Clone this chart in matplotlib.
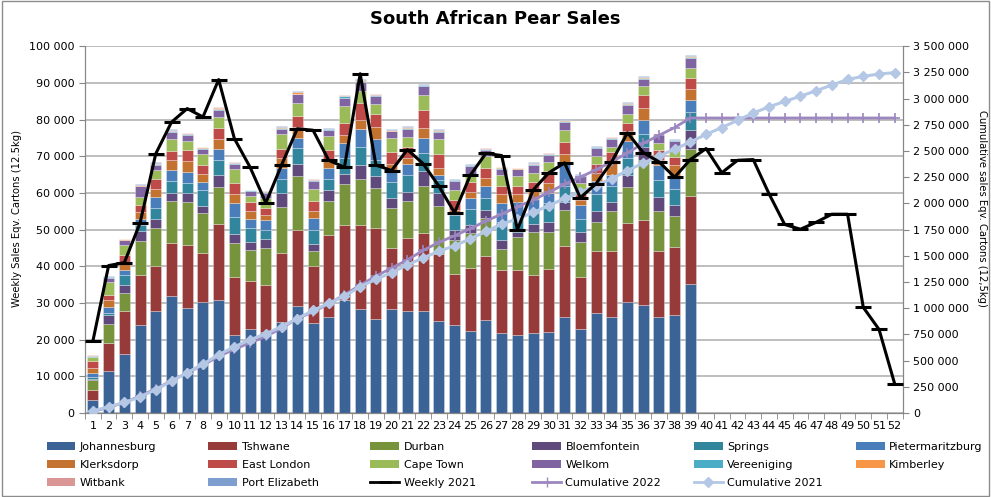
import numpy as np
import matplotlib
matplotlib.use("Agg")
import matplotlib.pyplot as plt
from matplotlib.ticker import FuncFormatter, MultipleLocator, FixedLocator
from matplotlib.patches import Patch, Rectangle
from matplotlib.lines import Line2D

weeks = list(range(1, 53))
bar_weeks = list(range(1, 40))

# 2022 weekly sales per market, thousand cartons, weeks 1-39
johannesburg = [3.5, 11.5, 16.1, 24.1, 27.9, 31.8, 28.5, 30.2, 30.7, 21.3, 23.0, 22.0, 24.8, 29.1, 24.6, 26.2, 30.7, 28.4, 25.7, 28.4,
                27.8, 27.8, 25.1, 23.9, 22.3, 25.3, 21.7, 21.4, 21.9, 22.1, 26.2, 23.0, 27.3, 26.2, 30.2, 29.5, 26.2, 26.8, 35.1]
tshwane = [2.8, 7.6, 11.7, 13.6, 12.1, 14.5, 17.3, 13.5, 20.7, 15.7, 13.1, 13.0, 18.8, 20.8, 15.4, 22.2, 20.5, 22.9, 24.7, 16.5,
           19.9, 21.2, 18.2, 14.1, 17.2, 17.5, 17.2, 17.6, 15.8, 17.2, 19.3, 14.1, 17.0, 17.9, 21.5, 23.0, 18.0, 18.5, 24.0]
durban = [2.7, 5.3, 5.0, 9.1, 10.4, 11.5, 11.7, 10.8, 10.2, 9.3, 8.3, 10.0, 12.6, 14.6, 4.1, 9.3, 11.3, 12.4, 10.9, 10.9,
          10.2, 12.9, 13.1, 9.3, 9.5, 10.4, 5.9, 9.0, 11.7, 10.0, 9.8, 9.5, 7.7, 11.0, 10.0, 16.6, 10.8, 8.4, 12.9]
bloemfontein = [0.4, 2.2, 2.1, 2.7, 2.6, 2.2, 2.4, 1.9, 3.2, 2.6, 2.2, 2.5, 3.7, 3.3, 2.1, 3.2, 2.7, 4.0, 3.3, 2.9,
                2.4, 4.2, 3.5, 2.5, 2.2, 2.1, 2.5, 1.3, 2.2, 2.7, 2.2, 2.7, 3.0, 2.5, 3.3, 3.5, 3.9, 3.0, 5.2]
springs = [0.3, 0.6, 2.7, 1.8, 2.9, 3.2, 2.9, 4.4, 4.3, 4.5, 3.8, 2.5, 3.8, 4.5, 3.6, 3.0, 4.4, 4.9, 4.3, 4.2,
           4.6, 4.8, 3.6, 4.3, 4.5, 3.4, 4.7, 4.4, 3.0, 5.3, 4.5, 3.7, 4.8, 4.3, 4.6, 3.5, 4.6, 4.4, 4.8]
pietermaritzburg = [1.3, 1.8, 1.5, 1.7, 3.0, 3.0, 3.0, 2.1, 2.9, 3.9, 2.6, 2.5, 3.0, 2.6, 3.3, 3.0, 3.9, 4.7, 5.9, 3.0,
                    2.9, 4.1, 1.4, 0.6, 3.0, 3.2, 5.3, 3.9, 3.8, 2.7, 6.2, 3.6, 3.4, 3.1, 4.5, 3.9, 4.0, 3.5, 3.3]
klerksdorp = [1.2, 1.7, 1.4, 1.9, 2.3, 2.7, 2.8, 2.2, 2.7, 2.5, 2.1, 1.4, 2.7, 3.1, 1.9, 2.0, 2.3, 2.7, 3.3, 2.1,
              1.8, 2.7, 1.8, 0.6, 1.5, 2.3, 2.3, 2.0, 2.1, 2.8, 2.3, 1.4, 2.1, 3.4, 2.7, 3.2, 1.4, 2.9, 3.0]
east_london = [1.9, 1.5, 2.5, 1.9, 2.5, 2.5, 3.0, 2.6, 3.1, 2.8, 2.4, 2.1, 2.7, 3.1, 2.7, 2.7, 3.4, 4.4, 3.4, 3.1,
               3.0, 5.0, 3.9, 2.8, 2.7, 2.6, 2.3, 2.4, 2.4, 3.2, 3.3, 1.6, 2.5, 2.7, 2.3, 3.4, 2.9, 2.3, 3.0]
cape_town = [1.2, 3.4, 2.9, 2.1, 2.5, 3.4, 2.5, 3.0, 2.8, 4.0, 1.6, 2.5, 3.9, 3.5, 3.4, 3.9, 4.5, 3.3, 2.7, 4.0,
             2.7, 4.1, 4.0, 2.8, 2.1, 3.2, 2.9, 2.6, 2.6, 2.5, 3.3, 3.2, 2.3, 1.5, 2.3, 2.5, 1.9, 2.0, 2.7]
welkom = [0.1, 1.2, 1.3, 2.9, 1.3, 1.8, 1.8, 1.4, 2.1, 1.3, 1.4, 1.5, 1.3, 2.3, 2.2, 1.6, 2.3, 2.5, 2.3, 1.7,
          2.0, 2.3, 2.1, 2.3, 2.3, 1.7, 1.8, 1.8, 2.0, 1.8, 2.2, 1.8, 2.1, 2.2, 2.7, 2.0, 2.0, 2.3, 2.7]
vereeniging = [0.1, 0.2, 0.1, 0.2, 0.3, 0.3, 0.2, 0.2, 0.3, 0.2, 0.2, 0.2, 0.5, 0.2, 0.2, 0.2, 0.3, 0.2, 0.2, 0.2,
               0.5, 0.2, 0.2, 0.3, 0.2, 0.2, 0.3, 0.2, 0.4, 0.2, 0.3, 0.2, 0.2, 0.2, 0.2, 0.3, 0.2, 0.2, 0.3]
kimberley = [0.1, 0.1, 0.1, 0.1, 0.2, 0.1, 0.1, 0.1, 0.2, 0.1, 0.1, 0.1, 0.1, 0.4, 0.1, 0.1, 0.2, 0.3, 0.1, 0.1,
             0.1, 0.1, 0.2, 0.1, 0.1, 0.2, 0.1, 0.1, 0.1, 0.2, 0.2, 0.1, 0.1, 0.1, 0.1, 0.2, 0.1, 0.1, 0.3]
witbank = [0.1, 0.1, 0.0, 0.1, 0.1, 0.1, 0.1, 0.1, 0.1, 0.1, 0.0, 0.1, 0.1, 0.1, 0.1, 0.1, 0.1, 0.1, 0.1, 0.1,
           0.1, 0.1, 0.1, 0.0, 0.1, 0.1, 0.1, 0.1, 0.1, 0.1, 0.1, 0.1, 0.1, 0.1, 0.1, 0.1, 0.1, 0.1, 0.1]
port_elizabeth = [0.1, 0.1, 0.1, 0.1, 0.2, 0.2, 0.1, 0.1, 0.2, 0.1, 0.1, 0.1, 0.2, 0.2, 0.1, 0.1, 0.2, 0.2, 0.1, 0.1,
                  0.2, 0.2, 0.1, 0.1, 0.1, 0.1, 0.1, 0.1, 0.2, 0.1, 0.2, 0.1, 0.1, 0.1, 0.2, 0.2, 0.1, 0.1, 0.2]

markets = ["Johannesburg", "Tshwane", "Durban", "Bloemfontein", "Springs", "Pietermaritzburg",
           "Klerksdorp", "East London", "Cape Town", "Welkom", "Vereeniging", "Kimberley",
           "Witbank", "Port Elizabeth"]
series = [johannesburg, tshwane, durban, bloemfontein, springs, pietermaritzburg,
          klerksdorp, east_london, cape_town, welkom, vereeniging, kimberley,
          witbank, port_elizabeth]
colours = ["#3B6396", "#973B3A", "#77933C", "#604A7B", "#31859C", "#4A7EBB",
           "#C3722F", "#BE4B48", "#9BBB59", "#8064A2", "#4BACC6", "#F79646",
           "#D99694", "#7E9ECF"]

# thousand cartons
weekly_2021 = [19.6, 40.2, 41.0, 51.8, 70.7, 79.3, 83.0, 80.7, 90.9, 74.8, 67.0, 57.3, 67.6, 77.5, 77.1, 68.9, 67.0, 92.5,
               67.6, 66.1, 71.8, 68.0, 61.9, 54.6, 64.8, 70.8, 70.2, 50.0, 60.8, 65.5, 68.2, 58.7, 62.5, 68.5, 76.4, 71.0,
               68.5, 64.3, 69.1, 72.1, 65.5, 68.9, 69.1, 59.8, 51.4, 50.1, 52.0, 54.2, 54.2, 28.8, 22.8, 7.9]
cumulative_2022 = [15.5, 52.5, 99.8, 162.0, 230.3, 307.6, 384.0, 456.9, 540.5, 608.9, 669.9, 731.1, 809.5, 900.7, 964.6,
                   1042.1, 1128.3, 1219.6, 1306.2, 1383.3, 1461.3, 1550.9, 1628.2, 1691.8, 1759.5, 1831.6, 1898.7, 1965.7,
                   2033.9, 2104.7, 2184.5, 2249.5, 2322.1, 2397.1, 2481.7, 2573.2, 2649.3, 2723.9, 2815.0, 2815.0,
                   2815.0, 2815.0, 2815.0, 2815.0, 2815.0, 2815.0, 2815.0, 2815.0, 2815.0, 2815.0, 2815.0, 2815.0]
cumulative_2021 = [19.6, 59.8, 100.8, 152.6, 223.3, 302.6, 385.6, 466.3, 557.2, 632.0, 699.0, 756.3, 823.9, 901.4, 978.5,
                   1047.4, 1114.4, 1206.9, 1274.5, 1340.6, 1412.4, 1480.4, 1542.3, 1596.9, 1661.7, 1732.5, 1802.7, 1852.7,
                   1913.5, 1979.0, 2047.2, 2105.9, 2168.4, 2236.9, 2313.3, 2384.3, 2452.8, 2517.1, 2586.2, 2658.3, 2723.8,
                   2792.7, 2861.8, 2921.6, 2973.0, 3023.1, 3075.1, 3129.3, 3183.5, 3212.3, 3235.1, 3248.0]

grey = "#868686"
fig = plt.figure(figsize=(9.91, 4.97), dpi=100)
ax = fig.add_axes([0.0858, 0.169, 0.825, 0.738])
ax2 = ax.twinx()

bottom = np.zeros(len(bar_weeks))
for name, vals, col in zip(markets, series, colours):
    v = np.array(vals) * 1000
    ax.bar(bar_weeks, v, 0.7, bottom=bottom, color=col, edgecolor=(1, 1, 1, 0.5), linewidth=0.4, zorder=2)
    bottom += v

c22 = "#9C87C0"
c21 = "#B4C8E6"
ax2.plot(weeks, np.array(cumulative_2022) * 1000, color=c22, lw=2, marker="+", ms=7, mew=1.2, zorder=3)
ax2.plot(weeks, np.array(cumulative_2021) * 1000, color=c21, lw=2.2, marker="D", ms=5, zorder=4)
ax2.plot(weeks, np.array(weekly_2021) * 1000, color="black", lw=2.2, marker="_", ms=11, mew=2.2,
         transform=ax.transData, zorder=5)

fmt = FuncFormatter(lambda v, p: f"{int(round(v)):,}".replace(",", " "))
ax.set_xlim(0.5, 52.5)
ax.set_ylim(0, 100000)
ax.yaxis.set_major_locator(MultipleLocator(10000))
ax.yaxis.set_major_formatter(fmt)
ax2.set_ylim(0, 3500000)
ax2.yaxis.set_major_locator(MultipleLocator(250000))
ax2.yaxis.set_major_formatter(fmt)

ax.set_xticks(weeks)
ax.set_xticklabels([str(w) for w in weeks])
ax.xaxis.set_minor_locator(FixedLocator(np.arange(0.5, 53, 1)))
ax.tick_params(axis="x", which="major", length=0, labelsize=8, pad=6)
ax.tick_params(axis="x", which="minor", length=4, color=grey)
ax.tick_params(axis="y", length=4, color=grey, labelsize=8)
ax2.tick_params(axis="y", length=4, color=grey, labelsize=8)

ax.grid(axis="y", color="#B3B3B3", lw=1.2, zorder=0)
ax.set_axisbelow(True)
for a in (ax, ax2):
    a.spines["top"].set_visible(False)
    for s in ("left", "right", "bottom"):
        a.spines[s].set_color(grey)

fig.text(0.5, 0.962, "South African Pear Sales", ha="center", va="center", fontsize=13, fontweight="bold")
fig.text(0.017, 0.56, "Weekly Sales Eqv. Cartons (12.5kg)", rotation=90, ha="center", va="center",
         fontsize=7.2, family=["Liberation Sans Narrow", "DejaVu Sans"])
fig.text(0.991, 0.58, "Cumulative sales Eqv. Cartons (12,5kg)", rotation=270, ha="center", va="center",
         fontsize=7.2, family=["Liberation Sans Narrow", "DejaVu Sans"])

handles = [Patch(facecolor=c) for c in colours]
handles += [Line2D([], [], color="black", lw=2, marker="_", ms=8, mew=2),
            Line2D([], [], color=c22, lw=2, marker="+", ms=7),
            Line2D([], [], color=c21, lw=2, marker="D", ms=5)]
labels = markets + ["Weekly 2021", "Cumulative 2022", "Cumulative 2021"]
for c in range(6):
    idx = [i for i in (c, c + 6, c + 12) if i < len(labels)]
    fig.legend([handles[i] for i in idx], [labels[i] for i in idx], loc="upper left",
               bbox_to_anchor=(0.047 + c * 0.1633, 0.111), frameon=False, fontsize=8,
               handlelength=2.6, handletextpad=0.4, labelspacing=0.72, borderpad=0, borderaxespad=0)

fig.patches.append(Rectangle((0.002, 0.002), 0.996, 0.996, transform=fig.transFigure,
                             fill=False, edgecolor="#8C8C8C", lw=1))

fig.savefig("out.png", dpi=100)
